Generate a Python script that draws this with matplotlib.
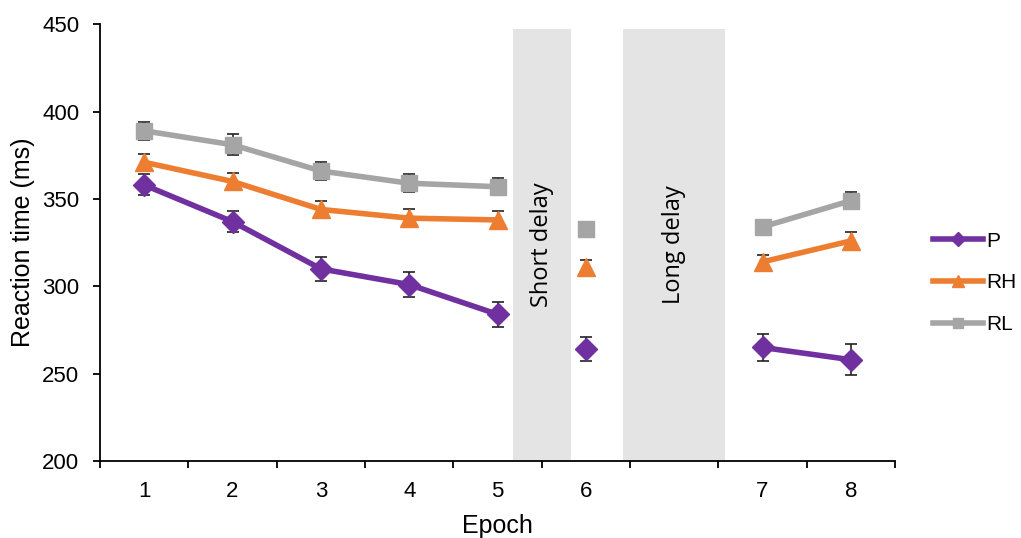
import numpy as np
import matplotlib
matplotlib.use("Agg")
import matplotlib.pyplot as plt

plt.rcParams['font.family'] = ['Liberation Sans', 'DejaVu Sans']

# category slots on the x axis (slot 7 is the long-delay gap)
slots = [1, 2, 3, 4, 5, 6, 7, 8, 9]
slot_labels = ["1", "2", "3", "4", "5", "6", "", "7", "8"]

nan = np.nan
# segments: epochs 1-5 joined, 6 alone, 7-8 joined
xs = [1, 2, 3, 4, 5, nan, 6, nan, 8, 9]
P = [358, 337, 310, 301, 284, nan, 264, nan, 265, 258]
RH = [371, 360, 344, 339, 338, nan, 311, nan, 314, 326]
RL = [389, 381, 366, 359, 357, nan, 333, nan, 334, 349]
P_err = [6, 6, 7, 7, 7, nan, 7, nan, 8, 9]
RH_err = [5, 5, 5, 5, 5, nan, 4, nan, 4, 5]
RL_err = [5, 6, 5, 5, 5, nan, 3, nan, 4, 5]

bands = [(5.17, 5.83, "Short delay"), (6.42, 7.57, "Long delay")]

fig = plt.figure(figsize=(10.21, 5.38), dpi=100)
ax = fig.add_axes([0.098, 0.143, 0.7786, 0.812])

for x0, x1, label in bands:
    ax.fill_between([x0, x1], 200, 447, color="#E4E4E4", lw=0, zorder=0)
    ax.text((x0 + x1) / 2, 324, label, rotation=90, ha="center", va="center",
            fontsize=17, family="Open Sans")

series = [("P", P, P_err, "#7030A0", "D", 11),
          ("RH", RH, RH_err, "#ED7D31", "^", 13),
          ("RL", RL, RL_err, "#A5A5A5", "s", 11)]
handles = []
for name, y, e, c, m, ms in series:
    ax.errorbar(xs, y, yerr=e, fmt="none", ecolor="#222222", elinewidth=1.2,
                capsize=4, capthick=1.2, zorder=3)
    h, = ax.plot(xs, y, color=c, lw=4, marker=m, ms=ms, zorder=4, label=name)
    handles.append(h)

ax.set_xlim(0.5, 9.5)
ax.set_ylim(200, 450)
ax.set_yticks([200, 250, 300, 350, 400, 450])
ax.set_xticks(slots)
ax.set_xticklabels(slot_labels)
ax.set_xticks(np.arange(0.5, 9.6, 1), minor=True)
ax.tick_params(axis="x", which="major", length=0, pad=14, labelsize=16)
ax.tick_params(axis="x", which="minor", length=5, width=1.3, direction="out")
ax.tick_params(axis="y", length=5, width=1.3, labelsize=16, pad=10)
for s in ["top", "right"]:
    ax.spines[s].set_visible(False)
for s in ["left", "bottom"]:
    ax.spines[s].set_linewidth(1.3)

ax.set_xlabel("Epoch", fontsize=18, labelpad=9)
ax.set_ylabel("Reaction time (ms)", fontsize=18, labelpad=5)

fig.legend(handles=handles, loc="center left", bbox_to_anchor=(0.914, 0.474),
           frameon=False, fontsize=15, handlelength=2.4, labelspacing=1.1,
           handletextpad=0.15, borderpad=0, borderaxespad=0, markerscale=0.65)

fig.savefig("out.png", dpi=100)
